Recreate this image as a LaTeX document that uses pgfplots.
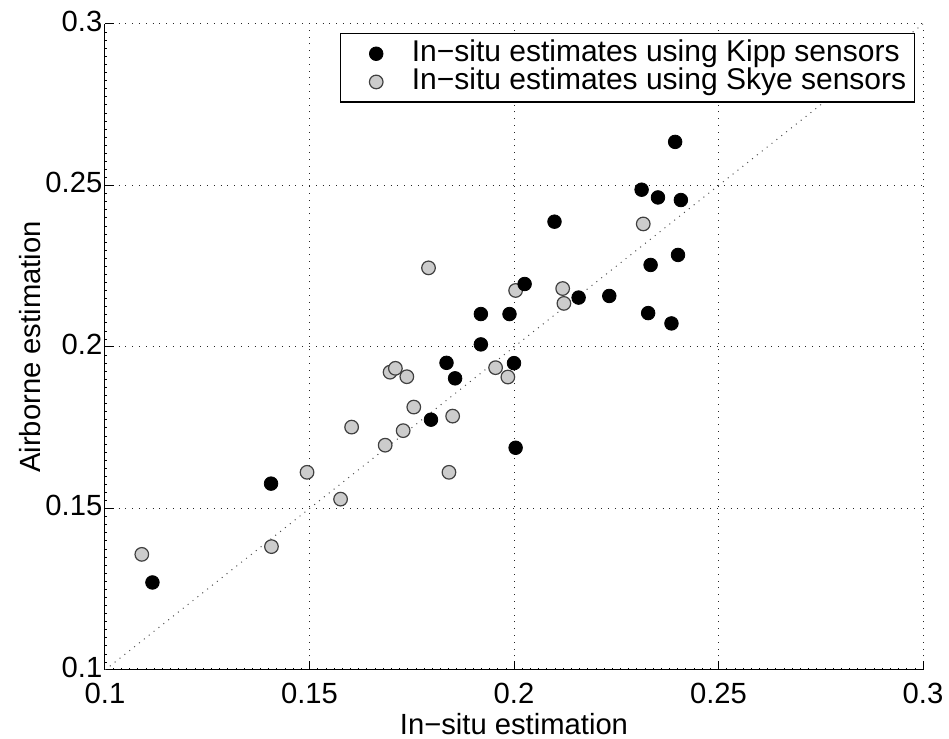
\documentclass[border=0pt]{standalone}
\usepackage{fontspec}
\setmainfont{Liberation Sans}
\usepackage{pgfplots}
\pgfplotsset{compat=1.18}

\newcommand{\lbl}{\fontsize{14.6}{17}\selectfont}

\begin{document}
\begin{tikzpicture}
\useasboundingbox (-52.5pt,-34.5pt) rectangle (422pt,335pt);
\begin{axis}[
    scale only axis,
    width=409pt, height=323pt,
    xmin=0.1, xmax=0.3, ymin=0.1, ymax=0.3,
    xtick={0.1,0.15,0.2,0.25,0.3},
    ytick={0.1,0.15,0.2,0.25,0.3},
    minor x tick num=24, minor y tick num=19,
    axis x line*=bottom, axis y line*=left,
    axis line style={-, line width=0.5pt, black},
    tick align=inside,
    major tick length=4.5pt, minor tick length=1pt,
    tick style={black, line width=0.5pt},
    minor tick style={black, line width=0.3pt},
    grid=major,
    major grid style={black!85, line width=0.5pt, dash pattern=on 0.5pt off 2.9pt},
    /pgf/number format/assume math mode=true,
    ticklabel style={font=\lbl},
    xticklabel style={yshift=-3.2pt},
    yticklabel style={xshift=2.2pt, yshift=1.5pt},
    xlabel={In−situ estimation},
    ylabel={Airborne estimation},
    every axis x label/.style={at={(axis description cs:0.5,0)}, anchor=center, yshift=-27pt, font=\lbl},
    every axis y label/.style={at={(axis description cs:0,0.5)}, anchor=center, xshift=-37.5pt, rotate=90, font=\lbl},
    legend style={at={(axis description cs:0.99,0.986)}, anchor=north east,
        draw=black, line width=0.6pt, fill=white, font=\fontsize{15}{17}\selectfont,
        inner xsep=4pt, inner ysep=3pt, column sep=4pt,
        nodes={inner xsep=0pt, inner ysep=0.3pt, text height=10.4pt, text depth=3.1pt}},
    legend cell align=left,
    legend image code/.code={\path (0pt,0pt) (27pt,0pt); \draw[#1] plot coordinates {(13.5pt,0pt)};},
    kipp/.style={only marks, mark=*, mark size=3.4pt, mark options={fill=black, draw=black, line width=0.4pt}},
    skye/.style={only marks, mark=*, mark size=3.4pt, mark options={fill=black!20, draw=black!75, line width=0.6pt}},
]
\addlegendimage{kipp}
\addlegendentry{In−situ estimates using Kipp sensors}
\addlegendimage{skye}
\addlegendentry{In−situ estimates using Skye sensors}

% 1:1 line
\addplot[forget plot, black!70, line width=0.5pt, dash pattern=on 0.5pt off 2.6pt] coordinates {(0.1,0.1) (0.3,0.3)};

% Skye sensors
\addplot[forget plot, skye] coordinates {
(0.1090,0.1358) (0.1407,0.1382) (0.1494,0.1612) (0.1576,0.1529)
(0.1603,0.1752) (0.1685,0.1696) (0.1697,0.1922) (0.1710,0.1934)
(0.1729,0.1741) (0.1738,0.1908) (0.1755,0.1814) (0.1791,0.2245)
(0.1841,0.1612) (0.1850,0.1786) (0.1955,0.1936) (0.1985,0.1907)
(0.2004,0.2175) (0.2119,0.2181) (0.2122,0.2135) (0.2316,0.2381)
};

% Kipp sensors
\addplot[forget plot, kipp] coordinates {
(0.1116,0.1271) (0.1406,0.1577) (0.1797,0.1775) (0.1835,0.1951)
(0.1856,0.1903) (0.1919,0.2102) (0.1919,0.2008) (0.1989,0.2102)
(0.2000,0.1950) (0.2004,0.1688) (0.2026,0.2195) (0.2099,0.2388)
(0.2158,0.2153) (0.2233,0.2158) (0.2312,0.2487) (0.2352,0.2463)
(0.2408,0.2455) (0.2401,0.2285) (0.2334,0.2254) (0.2328,0.2105)
(0.2385,0.2073) (0.2394,0.2635)
};
\end{axis}
\end{tikzpicture}
\end{document}
